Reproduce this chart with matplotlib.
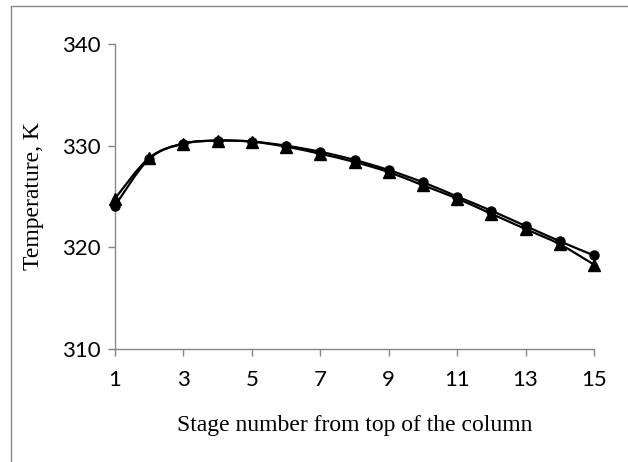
import matplotlib
matplotlib.use("Agg")
import matplotlib.pyplot as plt
from matplotlib.path import Path
from matplotlib.patches import PathPatch, Rectangle
import numpy as np

stages = list(range(1, 16))
temp_circle = [324.1, 328.7, 330.2, 330.5, 330.4, 330.0, 329.4, 328.6, 327.6,
               326.4, 325.0, 323.6, 322.1, 320.6, 319.2]
temp_triangle = [324.8, 328.8, 330.2, 330.5, 330.4, 329.9, 329.2, 328.4, 327.4,
                 326.1, 324.8, 323.3, 321.8, 320.3, 318.3]
xticks = [1, 3, 5, 7, 9, 11, 13, 15]
yticks = [310, 320, 330, 340]


def smooth_path(xs, ys):
    pts = np.column_stack([xs, ys]).astype(float)
    n = len(pts)
    verts = [pts[0]]
    codes = [Path.MOVETO]
    for i in range(n - 1):
        p0 = pts[i - 1] if i > 0 else pts[i]
        p1 = pts[i]
        p2 = pts[i + 1]
        p3 = pts[i + 2] if i + 2 < n else pts[i + 1]
        c1 = p1 + (p2 - p0) / 6.0
        c2 = p2 - (p3 - p1) / 6.0
        verts += [c1, c2, p2]
        codes += [Path.CURVE4] * 3
    return Path(verts, codes)


fig = plt.figure(figsize=(6.28, 4.62), dpi=100)
ax = fig.add_axes([115 / 628, 1 - 349 / 462, 479 / 628, 305 / 462])

for ys, marker, ms in [(temp_circle, "o", 6.5), (temp_triangle, "^", 8)]:
    ax.add_patch(PathPatch(smooth_path(stages, ys), fill=False, edgecolor="black",
                           lw=1.6, zorder=2))
    ax.plot(stages, ys, linestyle="none", marker=marker, markersize=ms,
            color="black", zorder=3, clip_on=False)

ax.set_xlim(1, 15)
ax.set_ylim(310, 340)
ax.set_xticks(xticks)
ax.set_yticks(yticks)
ax.set_xticklabels([str(v) for v in xticks], fontfamily="Lato", fontsize=16)
ax.set_yticklabels([str(v) for v in yticks], fontfamily="Lato", fontsize=16)

gray = "#868686"
for s in ["top", "right"]:
    ax.spines[s].set_visible(False)
for s in ["left", "bottom"]:
    ax.spines[s].set_color(gray)
    ax.spines[s].set_linewidth(1.0)
ax.tick_params(axis="both", direction="out", length=5, width=1.0, color=gray,
               labelcolor="black")
ax.tick_params(axis="x", pad=10)
ax.tick_params(axis="y", pad=5)

ax.set_xlabel("Stage number from top of the column", fontfamily="Liberation Serif",
              fontsize=17, labelpad=18)
ax.set_ylabel("Temperature, K", fontfamily="Liberation Serif", fontsize=17,
              labelpad=13)

fig.patches.append(Rectangle((11 / 628, -0.01), 1.0, 1 - 6 / 462 + 0.01,
                             transform=fig.transFigure, fill=False,
                             edgecolor=gray, lw=1.0))

fig.savefig("out.png", dpi=100)
